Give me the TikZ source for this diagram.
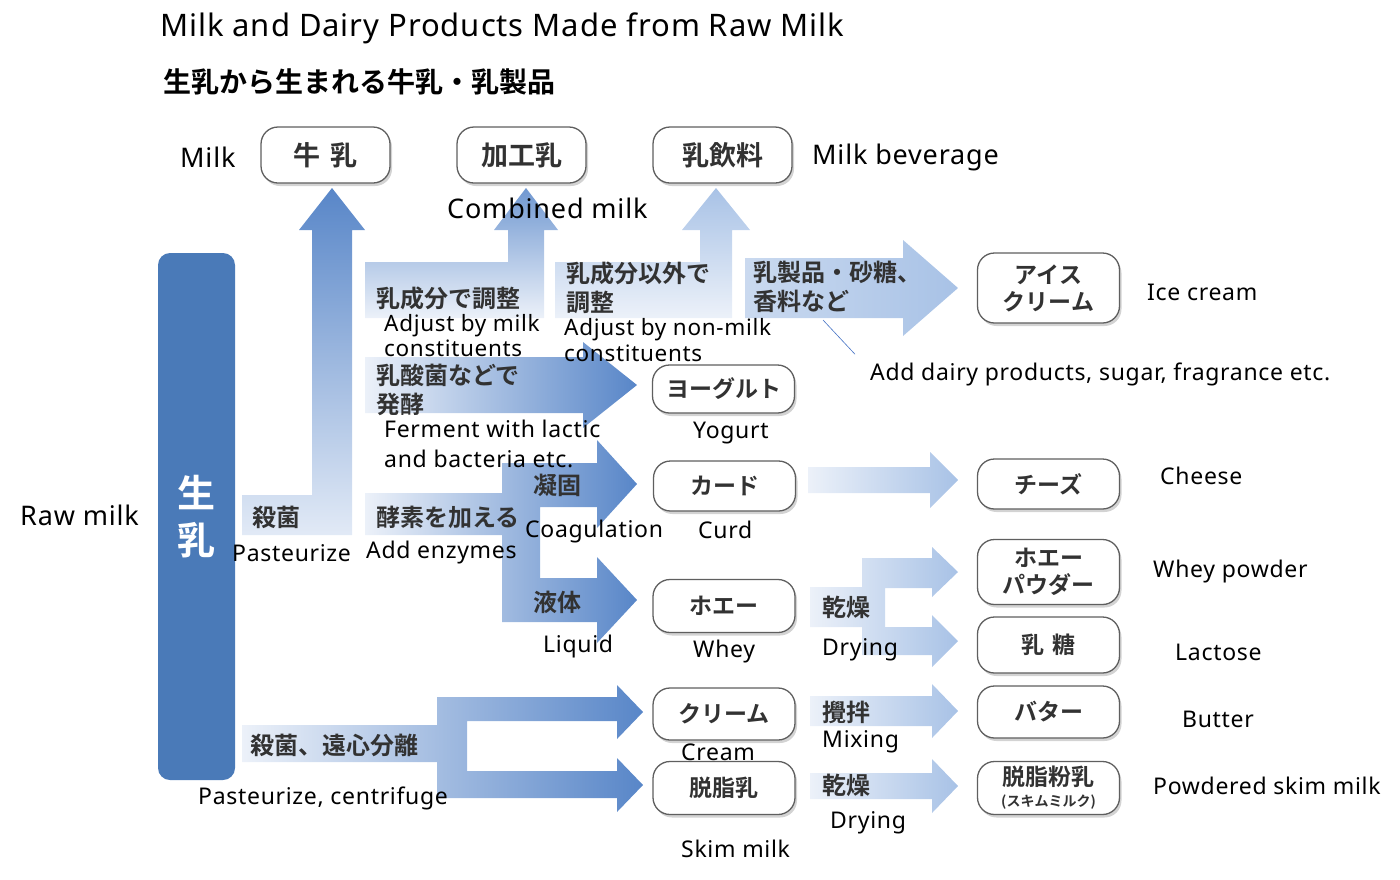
\documentclass[tikz,border=0pt]{standalone}
\usepackage{fontspec}
\setmainfont{Noto Sans}[LetterSpace=3]
\newfontfamily\jpb{Noto Sans CJK JP Bold}
\usetikzlibrary{shadows, calc}
\definecolor{barblue}{RGB}{74,122,184}
\definecolor{flowblue}{RGB}{88,134,200}
\definecolor{flowlight}{RGB}{168,194,230}
\definecolor{flowpale}{RGB}{236,241,249}
\definecolor{jpgray}{RGB}{50,50,50}
\definecolor{boxline}{RGB}{95,95,95}
\definecolor{callout}{RGB}{68,114,196}

\tikzset{
  prodbox/.style={draw=boxline, line width=1.3pt, fill=white, rounded corners=17pt,
    minimum width=142, minimum height=52, align=center, inner sep=2pt,
    font=\jpb\fontsize{23}{27}\selectfont, text=jpgray,
    drop shadow={shadow xshift=2pt, shadow yshift=-3pt, opacity=0.35}},
  steplabel/.style={font=\jpb\fontsize{24}{29}\selectfont, text=jpgray, align=left,
    anchor=west, inner sep=0pt},
  enlabel/.style={font=\fontsize{23}{28}\selectfont, anchor=west, inner sep=0pt, align=left},
  biglabel/.style={enlabel, font=\fontsize{27}{30}\selectfont}
}

% horizontal block arrow: start x, tip x, centre y, shaft half, head half, head length
\newcommand{\flowarrow}[7][]{%
  \shade[#1] (#2,#4-#5) -- (#3-#7,#4-#5) -- (#3-#7,#4-#6) -- (#3,#4)
    -- (#3-#7,#4+#6) -- (#3-#7,#4+#5) -- (#2,#4+#5) -- cycle;}

\begin{document}
\begin{tikzpicture}[x=1pt, y=-1pt]
  \useasboundingbox (0,0) rectangle (1400,879);

  % Titles
  \node[biglabel, font=\fontsize{31}{34}\selectfont] (title) at (160,28) {Milk and Dairy Products Made from Raw Milk};
  \node[steplabel, font=\jpb\fontsize{28}{30}\selectfont, text=black] (subtitle) at (163,82) {生乳から生まれる牛乳・乳製品};

  % Raw milk bar
  \node[fill=barblue, rounded corners=12pt, minimum width=77, minimum height=527, inner sep=0pt,
    text=white, font=\jpb\fontsize{38}{47}\selectfont, align=center] (raw) at (196.5,516.5) {生\\乳};

  % Block arrows
  \shade[top color=flowblue, bottom color=flowpale!85!flowlight]
    (242,495) -- (312,495) -- (312,230) -- (299,230) -- (332,188) -- (365,230)
    -- (352,230) -- (352,535) -- (242,535) -- cycle;
  \shade[top color=flowblue!70!flowlight, bottom color=flowpale]
    (365,262) -- (508,262) -- (508,230) -- (494,230) -- (526,188) -- (558,230)
    -- (544,230) -- (544,318) -- (365,318) -- cycle;
  \shade[top color=flowlight, bottom color=flowpale]
    (555,262) -- (700,262) -- (700,230) -- (682,230) -- (716,188) -- (750,230)
    -- (732,230) -- (732,318) -- (555,318) -- cycle;
  \flowarrow[left color=flowpale!50!flowlight, right color=flowlight]{745}{958}{288}{30}{48}{55}
  \flowarrow[left color=flowpale, right color=flowblue]{365}{637}{385}{28}{43}{54}
  \shade[left color=flowpale, right color=flowblue]
    (365,493) -- (502,493) -- (502,463) -- (597,463) -- (597,440) -- (637,484)
    -- (597,528) -- (597,507) -- (540,507) -- (540,578) -- (597,578) -- (597,557)
    -- (637,600) -- (597,643) -- (597,622) -- (502,622) -- (502,535) -- (365,535) -- cycle;
  \shade[left color=flowpale, right color=flowblue]
    (242,725) -- (437,725) -- (437,697) -- (617,697) -- (617,685) -- (643,712)
    -- (617,739) -- (617,721) -- (467,721) -- (467,771) -- (617,771) -- (617,758)
    -- (643,785) -- (617,812) -- (617,798) -- (437,798) -- (437,762) -- (242,762) -- cycle;
  \flowarrow[left color=flowpale, right color=flowlight]{808}{958}{480}{13}{28}{28}
  \shade[left color=flowpale, right color=flowlight]
    (810,587) -- (862,587) -- (862,558) -- (932,558) -- (932,547) -- (958,572)
    -- (932,597) -- (932,588) -- (885,588) -- (885,627) -- (932,627) -- (932,615)
    -- (958,641) -- (932,667) -- (932,655) -- (862,655) -- (862,627) -- (810,627) -- cycle;
  \flowarrow[left color=flowpale, right color=flowlight]{810}{958}{711}{15}{27}{26}
  \flowarrow[left color=flowpale, right color=flowlight]{810}{958}{786}{13}{27}{26}

  % Product boxes
  \node[prodbox, minimum width=129, minimum height=56, font=\jpb\fontsize{27}{30}\selectfont] (milk) at (325.5,155) {牛\hspace{10pt}乳};
  \node[prodbox, minimum width=129, minimum height=56, font=\jpb\fontsize{27}{30}\selectfont] (kakou) at (521.5,155) {加工乳};
  \node[prodbox, minimum width=139, minimum height=56, font=\jpb\fontsize{27}{30}\selectfont] (inryo) at (722.5,155) {乳飲料};
  \node[prodbox, minimum height=70] (ice) at (1048.5,288) {アイス\\クリーム};
  \node[prodbox, minimum height=48] (yog) at (723.5,389) {ヨーグルト};
  \node[prodbox, minimum height=50] (curd) at (724.5,486) {カード};
  \node[prodbox, minimum height=50] (cheese) at (1048.5,484) {チーズ};
  \node[prodbox, minimum height=65] (wpow) at (1048.5,572) {ホエー\\パウダー};
  \node[prodbox, minimum height=56] (lact) at (1048.5,645) {乳\hspace{8pt}糖};
  \node[prodbox, minimum height=53] (whey) at (724,606) {ホエー};
  \node[prodbox, minimum height=52] (cream) at (724,714) {クリーム};
  \node[prodbox, minimum height=52] (butter) at (1048.5,712) {バター};
  \node[prodbox, minimum height=53] (skim) at (724,788) {脱脂乳};
  \node[prodbox, minimum height=53] (skimpow) at (1048.5,788) {脱脂粉乳\\[-6pt]{\fontsize{14}{15}\selectfont (スキムミルク)}};

  % Step texts on the arrows
  \node[steplabel] (pas) at (252,517) {殺菌};
  \node[steplabel] (adjm) at (376,298) {乳成分で調整};
  \node[steplabel] (adjn) at (566,288) {乳成分以外で\\調整};
  \node[steplabel] (addd) at (753,287) {乳製品・砂糖、\\香料など};
  \node[steplabel] (ferm) at (376,390) {乳酸菌などで\\発酵};
  \node[steplabel] (enz) at (376,517) {酵素を加える};
  \node[steplabel] (coag) at (533,485) {凝固};
  \node[steplabel] (liq) at (533,602) {液体};
  \node[steplabel] (dry1) at (822,607) {乾燥};
  \node[steplabel] (cent) at (250,745) {殺菌、遠心分離};
  \node[steplabel] (mix) at (822,712) {攪拌};
  \node[steplabel] (dry2) at (822,785) {乾燥};

  % English labels
  \node[biglabel] (lmilk) at (180,157) {Milk};
  \node[biglabel] (lkakou) at (447,208) {Combined milk};
  \node[biglabel] (linryo) at (812,157) {Milk beverage};
  \node[biglabel] (lraw) at (20,515) {Raw milk};
  \node[enlabel] (lice) at (1147,292) {Ice cream};
  \node[enlabel, font=\fontsize{22.5}{25}\selectfont] (ladjm) at (384,336) {Adjust by milk\\constituents};
  \node[enlabel, font=\fontsize{22.5}{26}\selectfont] (ladjn) at (564,340) {Adjust by non-milk\\constituents};
  \node[enlabel] (ladd) at (870,374) {Add dairy products, sugar, fragrance etc.};
  \node[enlabel] (lyog) at (693,433) {Yogurt};
  \node[enlabel, font=\fontsize{23}{30}\selectfont] (lferm) at (384,444) {Ferment with lactic\\and bacteria etc.};
  \node[enlabel] (lcheese) at (1160,476) {Cheese};
  \node[enlabel] (lpas) at (232,553) {Pasteurize};
  \node[enlabel] (lenz) at (366,553) {Add enzymes};
  \node[enlabel] (lcoag) at (525,532) {Coagulation};
  \node[enlabel] (lcurd) at (698,530) {Curd};
  \node[enlabel] (lwpow) at (1153,572) {Whey powder};
  \node[enlabel] (lliq) at (543,647) {Liquid};
  \node[enlabel] (lwhey) at (693,652) {Whey};
  \node[enlabel] (ldry1) at (822,650) {Drying};
  \node[enlabel] (llact) at (1175,652) {Lactose};
  \node[enlabel] (lbutter) at (1182,719) {Butter};
  \node[enlabel] (lcream) at (681,752) {Cream};
  \node[enlabel] (lmix) at (822,742) {Mixing};
  \node[enlabel] (lcent) at (198,798) {Pasteurize, centrifuge};
  \node[enlabel] (lskimpow) at (1153,786) {Powdered skim milk};
  \node[enlabel] (ldry2) at (830,823) {Drying};
  \node[enlabel] (lskim) at (681,849) {Skim milk};

  % Callout to the additive label
  \coordinate (calltip) at (823,320);
  \draw[callout, line width=0.6pt] (calltip) -- ($(ladd.north west)+(-15,-8)$);
\end{tikzpicture}
\end{document}
